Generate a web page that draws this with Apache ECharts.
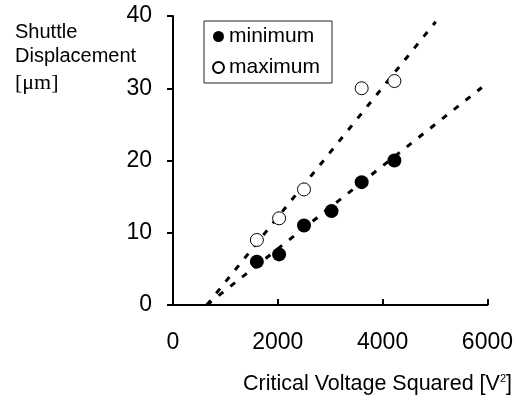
<!DOCTYPE html>
<html>
<head>
<meta charset="utf-8">
<script src="https://cdn.jsdelivr.net/npm/echarts@6/dist/echarts.min.js"></script>
<style>
  html, body { margin: 0; padding: 0; background: #fff; }
  #chart { width: 516px; height: 403px; }
</style>
</head>
<body>
<div id="chart"></div>
<script>
// Critical voltage squared [V^2] for each measurement
const voltageSquared = [1600, 2025, 2500, 3025, 3600, 4225];
// Shuttle displacement [um]
const minimumDisplacement = [6, 7, 11, 13, 17, 20];
const maximumVoltageSquared = [1600, 2025, 2500, 3600, 4225];
const maximumDisplacement = [9, 12, 16, 30, 31];

// Dashed trend line end points [V^2, um]
const minimumTrend = [[645, 0], [5892, 30.1]];
const maximumTrend = [[645, 0], [5012, 39.2]];

// Axis ticks
const xTicks = [0, 2000, 4000, 6000];
const yTicks = [0, 10, 20, 30, 40];

const pairs = (xs, ys) => xs.map((x, i) => [x, ys[i]]);

const chart = echarts.init(document.getElementById('chart'), null, { renderer: 'canvas' });

const sans = '"Liberation Sans", Arial, sans-serif';
const serif = '"Liberation Serif", "Times New Roman", serif';

chart.setOption({
  animation: false,
  backgroundColor: '#ffffff',
  grid: { left: 173, right: 27, top: 16, bottom: 98, containLabel: false },
  xAxis: {
    type: 'value',
    min: xTicks[0],
    max: xTicks[xTicks.length - 1],
    interval: xTicks[1] - xTicks[0],
    splitLine: { show: false },
    axisLine: { onZero: false, lineStyle: { color: '#000', width: 2 } },
    axisTick: { inside: true, length: 6, lineStyle: { color: '#000', width: 2 } },
    axisLabel: {
      color: '#000', fontFamily: sans, fontSize: 23, margin: 26,
      formatter: (v) => String(v)
    }
  },
  yAxis: {
    type: 'value',
    min: yTicks[0],
    max: yTicks[yTicks.length - 1],
    interval: yTicks[1] - yTicks[0],
    splitLine: { show: false },
    axisLine: { onZero: false, lineStyle: { color: '#000', width: 2 } },
    axisTick: { inside: false, length: 6, lineStyle: { color: '#000', width: 2 } },
    axisLabel: {
      color: '#000', fontFamily: sans, fontSize: 23, margin: 21,
      formatter: (v) => String(v)
    }
  },
  legend: {
    orient: 'vertical',
    left: 204,
    top: 21,
    padding: [5, 12, 5, 8],
    itemGap: 10,
    itemWidth: 11,
    itemHeight: 11,
    borderColor: '#222',
    borderWidth: 1,
    textStyle: { color: '#000', fontFamily: sans, fontSize: 21 },
    data: [
      { name: 'minimum', icon: 'circle' },
      { name: 'maximum', icon: 'circle' }
    ]
  },
  graphic: [
    {
      type: 'text', left: 15, top: 22,
      style: { text: 'Shuttle', fill: '#000', font: '20px ' + sans }
    },
    {
      type: 'text', left: 15, top: 46,
      style: { text: 'Displacement', fill: '#000', font: '20px ' + sans }
    },
    {
      type: 'text', left: 15, top: 72,
      style: { text: '[\u03bcm]', fill: '#000', font: '22px ' + serif }
    },
    {
      type: 'text', right: 4, top: 373,
      style: {
        text: 'Critical Voltage Squared [V{sup|2}]',
        fill: '#000',
        font: '21.5px ' + sans,
        rich: {
          sup: { fontSize: 11, fontFamily: sans, verticalAlign: 'top', padding: [0, 0, 10, 0] }
        }
      }
    }
  ],
  series: [
    {
      name: 'minimum trend',
      type: 'line',
      data: minimumTrend,
      symbol: 'none',
      silent: true,
      lineStyle: { color: '#000', width: 3, type: [6, 9] },
      z: 1
    },
    {
      name: 'maximum trend',
      type: 'line',
      data: maximumTrend,
      symbol: 'none',
      silent: true,
      lineStyle: { color: '#000', width: 3, type: [6, 9] },
      z: 1
    },
    {
      name: 'minimum',
      type: 'scatter',
      data: pairs(voltageSquared, minimumDisplacement),
      symbol: 'circle',
      symbolSize: 14,
      itemStyle: { color: '#000', borderColor: '#000', borderWidth: 0, opacity: 1 },
      z: 3
    },
    {
      name: 'maximum',
      type: 'scatter',
      data: pairs(maximumVoltageSquared, maximumDisplacement),
      symbol: 'circle',
      symbolSize: 13,
      itemStyle: { color: '#fff', borderColor: '#000', borderWidth: 1, opacity: 1 },
      z: 3
    }
  ]
});
</script>
</body>
</html>
